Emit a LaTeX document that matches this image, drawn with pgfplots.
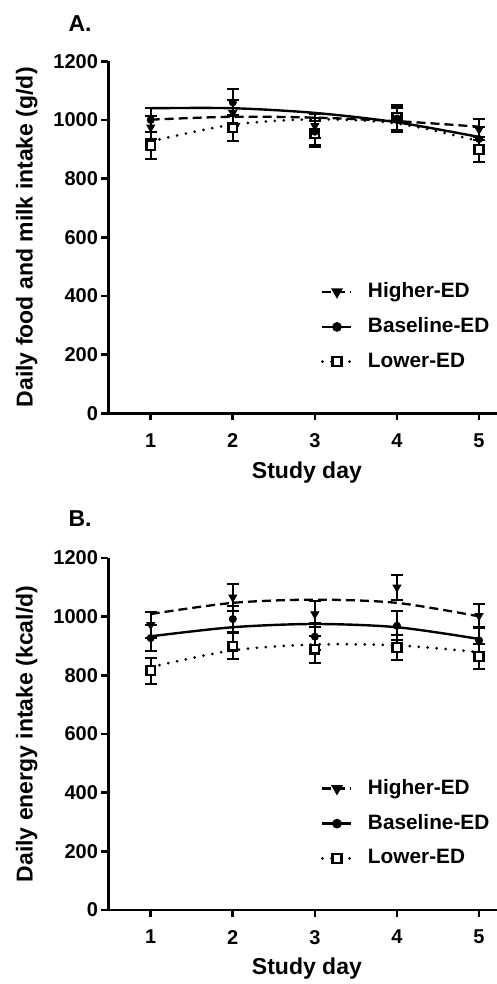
\documentclass[border=0pt]{standalone}
\usepackage{fontspec}
\setmainfont{Liberation Sans}
\usepackage{pgfplots}
\pgfplotsset{compat=1.18}

\pgfplotsset{
  edpanel/.style={
    scale only axis, width=194.35pt, height=176pt,
    axis lines=left, axis line style={line width=1.3pt,-},
    xmin=0.4834, xmax=5.219, ymin=0, ymax=1200,
    xtick={1,2,3,4,5}, ytick={0,200,...,1200},
    tick align=outside, major tick length=3.5pt,
    tick style={line width=1.3pt,black},
    /pgf/number format/assume math mode=true,
    /pgf/number format/1000 sep={},
    ticklabel style={font=\fontsize{10}{12}\selectfont\bfseries},
    xticklabel style={yshift=-3pt},
    yticklabel style={inner sep=1.5pt},
    label style={font=\fontsize{11.5}{13}\selectfont\bfseries},
    xlabel={Study day},
    xlabel style={at={(axis description cs:0.511,-0.167)},anchor=center},
    ylabel style={at={(axis description cs:-0.21,0.5)},anchor=center},
    clip=false,
    legend style={at={(axis description cs:0.5472,0.382)},anchor=north west,
      draw=none,fill=none,inner sep=0pt,outer sep=0pt,row sep=4.5pt,column sep=5.5pt,
      font=\fontsize{10.4}{12}\selectfont\bfseries},
    legend cell align=left,
    legend image code/.code={\draw[##1,mark repeat=2,mark phase=2]
      plot coordinates {(0pt,0pt)(7.25pt,0pt)(14.5pt,0pt)};},
  },
  hiline/.style={black,line width=1.15pt,dash pattern=on 4.5pt off 2.5pt},
  baseline/.style={black,line width=1.2pt},
  loline/.style={black,line width=1.5pt,line cap=round,dash pattern=on 0pt off 4.5pt},
  himark/.style={mark=triangle*,mark size=2.3pt,mark options={rotate=180,solid,fill=black}},
  basemark/.style={mark=*,mark size=1.8pt,mark options={solid,fill=black}},
  lomark/.style={mark=square*,mark size=2.2pt,mark options={solid,fill=white,line width=1.2pt}},
  edbars/.style={only marks,black,
    error bars/.cd,y dir=both,y explicit,error mark=-,
    error bar style={line width=1pt,solid},
    error mark options={rotate=90,mark size=3pt,line width=1pt,solid}},
}

\begin{document}
\begin{tikzpicture}
\path[use as bounding box] (0,0) rectangle (248.5pt,492pt);

\node[anchor=base,font=\fontsize{11.5}{13}\selectfont\bfseries] at (40pt,476pt) {A.};
\begin{axis}[edpanel,at={(54.15pt,285.35pt)},anchor=south west,
  ylabel={Daily food and milk intake (g/d)}]
\addlegendimage{hiline,himark}
\addlegendentry{Higher-ED}
\addlegendimage{baseline,basemark}
\addlegendentry{Baseline-ED}
\addlegendimage{loline,lomark}
\addlegendentry{Lower-ED}
% fitted curves
\addplot[hiline,smooth,forget plot] coordinates {(1,1001) (2,1011) (3,1008) (4,996) (5,977)};
\addplot[baseline,smooth,forget plot] coordinates {(1,1040) (2,1040) (3,1024) (4,992) (5,942)};
\addplot[loline,smooth,forget plot] coordinates {(1,927) (2,984) (3,1002) (4,988) (5,928)};
% means +- SEM
\addplot[forget plot,lomark,edbars] coordinates {
  (1,913) +- (0,46) (2,973) +- (0,45) (3,953) +- (0,45) (4,1008) +- (0,42) (5,899) +- (0,44)};
\addplot[forget plot,himark,edbars] coordinates {
  (1,975) +- (0,40) (2,1024) +- (0,45) (3,980) +- (0,40) (4,1000) +- (0,42) (5,967) +- (0,37)};
\addplot[forget plot,basemark,edbars] coordinates {
  (1,1000) +- (0,42) (2,1060) +- (0,46) (3,960) +- (0,45) (4,1005) +- (0,44) (5,935) +- (0,42)};
\end{axis}

\node[anchor=base,font=\fontsize{11.5}{13}\selectfont\bfseries] at (40pt,228.65pt) {B.};
\begin{axis}[edpanel,at={(54.15pt,37pt)},anchor=south west,
  ylabel={Daily energy intake (kcal/d)}]
\addlegendimage{hiline,himark}
\addlegendentry{Higher-ED}
\addlegendimage{baseline,basemark}
\addlegendentry{Baseline-ED}
\addlegendimage{loline,lomark}
\addlegendentry{Lower-ED}
\addplot[hiline,smooth,forget plot] coordinates {(1,1009) (2,1047) (3,1058) (4,1047) (5,1001)};
\addplot[baseline,smooth,forget plot] coordinates {(1,933) (2,964) (3,975) (4,964) (5,924)};
\addplot[loline,smooth,forget plot] coordinates {(1,828) (2,885) (3,905) (4,902) (5,879)};
\addplot[forget plot,lomark,edbars] coordinates {
  (1,816) +- (0,44) (2,899) +- (0,45) (3,889) +- (0,46) (4,895) +- (0,44) (5,864) +- (0,42)};
\addplot[forget plot,basemark,edbars] coordinates {
  (1,927) +- (0,45) (2,992) +- (0,45) (3,932) +- (0,45) (4,969) +- (0,50) (5,919) +- (0,45)};
\addplot[forget plot,himark,edbars] coordinates {
  (1,972) +- (0,44) (2,1066) +- (0,45) (3,1009) +- (0,43) (4,1100) +- (0,43) (5,1003) +- (0,40)};
\end{axis}
\end{tikzpicture}
\end{document}
